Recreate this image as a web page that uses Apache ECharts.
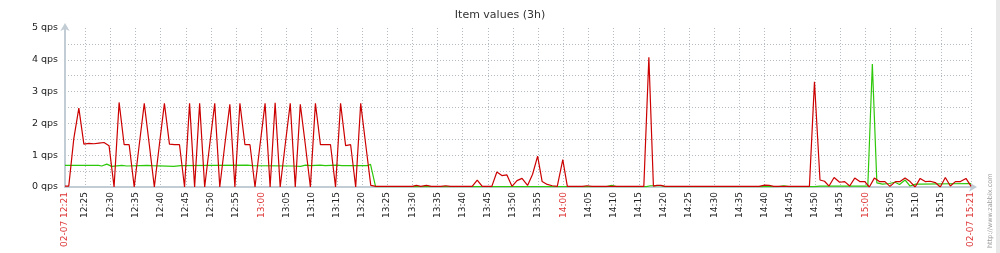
<!DOCTYPE html>
<html><head><meta charset="utf-8">
<script src="https://cdn.jsdelivr.net/npm/echarts@6/dist/echarts.min.js"></script>
<style>html,body{margin:0;padding:0;background:#fff}#c{width:1000px;height:253px}</style>
</head><body><div id="c"></div>
<script>
// x values: minutes since 02-07 12:21
const titleText = 'Item values (3h)';
const unit = 'qps';
const tickLabels = ['02-07 12:21','12:25','12:30','12:35','12:40','12:45','12:50','12:55','13:00','13:05','13:10','13:15','13:20','13:25','13:30','13:35','13:40','13:45','13:50','13:55','14:00','14:05','14:10','14:15','14:20','14:25','14:30','14:35','14:40','14:45','14:50','14:55','15:00','15:05','15:10','15:15','02-07 15:21'];
const yLabelValues = [0,1,2,3,4,5];
const yGridValues = [0,0.5,1,1.5,2,2.5,3,3.5,4,4.5];

const redPoints = [
[0,0.03],[0.75,0.03],[1.75,1.52],[2.75,2.48],[3.75,1.35],[4.75,1.37],[5.75,1.36],[6.75,1.38],[7.75,1.4],[8.75,1.3],
[9.75,0],[10.75,2.66],[11.75,1.33],[12.75,1.33],[13.75,0],[14.75,1.33],[15.75,2.63],[16.75,1.33],[17.75,0],[18.75,1.33],
[19.75,2.63],[20.75,1.35],[21.75,1.33],[22.75,1.33],[23.75,0],[24.75,2.63],[25.75,0],[26.75,2.63],[27.75,0],[28.75,1.33],
[29.75,2.63],[30.75,0],[31.75,1.33],[32.75,2.6],[33.75,0],[34.75,2.63],[35.75,1.33],[36.75,1.33],[37.75,0],[38.75,1.33],
[39.75,2.63],[40.75,0],[41.75,2.65],[42.75,0],[43.75,1.33],[44.75,2.63],[45.75,0],[46.75,2.6],[47.75,1.33],[48.75,0],
[49.75,2.63],[50.75,1.33],[51.75,1.33],[52.75,1.33],[53.75,0],[54.75,2.63],[55.75,1.3],[56.75,1.33],[57.75,0],[58.75,2.63],
[59.75,1.33],[60.75,0.05],[61.75,0.02],
[69.0,0.02],[69.8,0.05],[70.7,0.02],[71.8,0.05],[72.8,0.02],[74.7,0.02],[75.6,0.04],[76.6,0.02],[80.9,0.02],[81.9,0.22],
[82.9,0.02],[84.8,0.02],[85.8,0.47],[86.8,0.36],[87.8,0.38],[88.8,0.02],[89.8,0.2],[90.8,0.27],[91.9,0.05],[92.9,0.4],
[93.9,0.97],[94.8,0.17],[95.8,0.08],[96.8,0.04],[97.8,0.02],[98.9,0.86],[99.8,0.02],[102.8,0.02],[103.7,0.04],[104.7,0.02],
[115.0,0.02],[116.0,4.08],[116.9,0.03],[117.6,0.05],[118.4,0.05],[119.2,0.02],[137.9,0.02],[139.0,0.06],[139.9,0.05],[140.8,0.02],
[147.9,0.02],[148.9,3.31],[150.0,0.22],[150.9,0.18],[151.8,0.03],[152.8,0.3],[153.9,0.15],[154.9,0.17],[155.9,0.03],[156.9,0.28],
[157.9,0.17],[158.9,0.17],[159.8,0.0],[160.8,0.28],[161.8,0.17],[162.9,0.17],[163.9,0.02],[165.0,0.17],[165.9,0.17],[166.9,0.28],
[167.9,0.17],[168.9,0.0],[169.9,0.27],[170.9,0.17],[171.9,0.18],[172.9,0.14],[173.9,0.0],[174.9,0.3],[175.9,0.03],[176.9,0.17],
[177.9,0.17],[179.0,0.27],[179.9,0.05],[180,0.02]
];

const greenPoints = [
[0,0.68],[6.7,0.68],[7.3,0.66],[8.3,0.72],[9.3,0.65],[11.3,0.68],[12.3,0.66],[16.3,0.68],[17.3,0.67],[21.6,0.65],
[23,0.67],[36.2,0.69],[37.2,0.67],[45.4,0.66],[46.8,0.65],[47.8,0.69],[48.8,0.67],[50.7,0.69],[51.7,0.67],[54,0.69],
[55,0.67],[60.0,0.67],[60.7,0.71],[61.7,0.01],[107.6,0.01],[108.6,0.05],[109.6,0.01],[115.5,0.01],[116.3,0.04],[118.5,0.04],
[119.2,0.01],[141.8,0.01],[142.8,0.04],[143.8,0.01],[148.9,0.01],[150.0,0.03],[159.5,0.03],[160.4,3.87],[161.3,0.13],[162.4,0.09],
[163.8,0.11],[164.9,0.15],[165.8,0.08],[166.9,0.22],[167.9,0.03],[169.0,0.09],[170,0.09],[179.9,0.11],[180,0.09]
];

function minutesFromStart(label) {
  const hm = label.slice(-5).split(':');
  return (+hm[0]) * 60 + (+hm[1]) - (12 * 60 + 21);
}
const tickValues = tickLabels.map(minutesFromStart);
function labelFor(v) { const i = tickValues.indexOf(Number(v)); return i >= 0 ? tickLabels[i] : ''; }
const FONT = 'DejaVu Sans';
const axisColor = '#c2ccd4';
const gridColor = '#b4bbc2';

const chart = echarts.init(document.getElementById('c'), null, {renderer: 'canvas'});
chart.setOption({
  animation: false,
  backgroundColor: '#ffffff',
  title: {
    text: titleText, left: 'center', top: 5,
    textStyle: {fontFamily: FONT, fontSize: 11, fontWeight: 'normal', color: '#333'}
  },
  grid: {left: 65, right: 29, top: 28, bottom: 66},
  xAxis: {
    type: 'value', min: 0, max: 180,
    axisLine: {show: true, lineStyle: {color: axisColor, width: 2},
      symbol: ['none', 'arrow'], symbolSize: [7, 8], symbolOffset: [0, 6]},
    axisTick: {show: false, customValues: tickValues},
    splitLine: {show: true, lineStyle: {color: gridColor, width: 1, type: [1, 2]}},
    axisLabel: {
      customValues: tickValues, rotate: 90, margin: 5,
      fontFamily: FONT, fontSize: 9,
      formatter: v => labelFor(v),
      color: v => { const l = labelFor(v);
        return (l.indexOf('02-07') === 0 || /:00$/.test(l)) ? '#dd3333' : '#222'; }
    }
  },
  yAxis: {
    type: 'value', min: 0, max: 5,
    axisLine: {show: true, lineStyle: {color: axisColor, width: 2},
      symbol: ['none', 'arrow'], symbolSize: [7, 8], symbolOffset: [0, 5]},
    axisTick: {show: false, customValues: yGridValues},
    splitLine: {show: true, lineStyle: {color: gridColor, width: 1, type: [1, 2]}},
    axisLabel: {
      customValues: yLabelValues, margin: 7, fontFamily: FONT, fontSize: 9.5, color: '#222',
      formatter: v => v + ' ' + unit
    }
  },
  series: [
    {type: 'line', data: greenPoints, showSymbol: false, lineStyle: {color: '#2ec80a', width: 1.2}, itemStyle: {color: '#2ec80a'}, z: 2},
    {type: 'line', data: redPoints, showSymbol: false, lineStyle: {color: '#cc0000', width: 1.2}, itemStyle: {color: '#cc0000'}, z: 3}
  ],
  graphic: [
    {type: 'rect', shape: {x: 996, y: 0, width: 4, height: 253}, style: {fill: '#e8e8e8'}},
    {type: 'text', x: 990, y: 248, rotation: Math.PI / 2,
      style: {text: 'http://www.zabbix.com', fontFamily: FONT, fontSize: 6.5, fill: '#9a9a9a', align: 'left', verticalAlign: 'middle'}}
  ]
});
</script></body></html>
